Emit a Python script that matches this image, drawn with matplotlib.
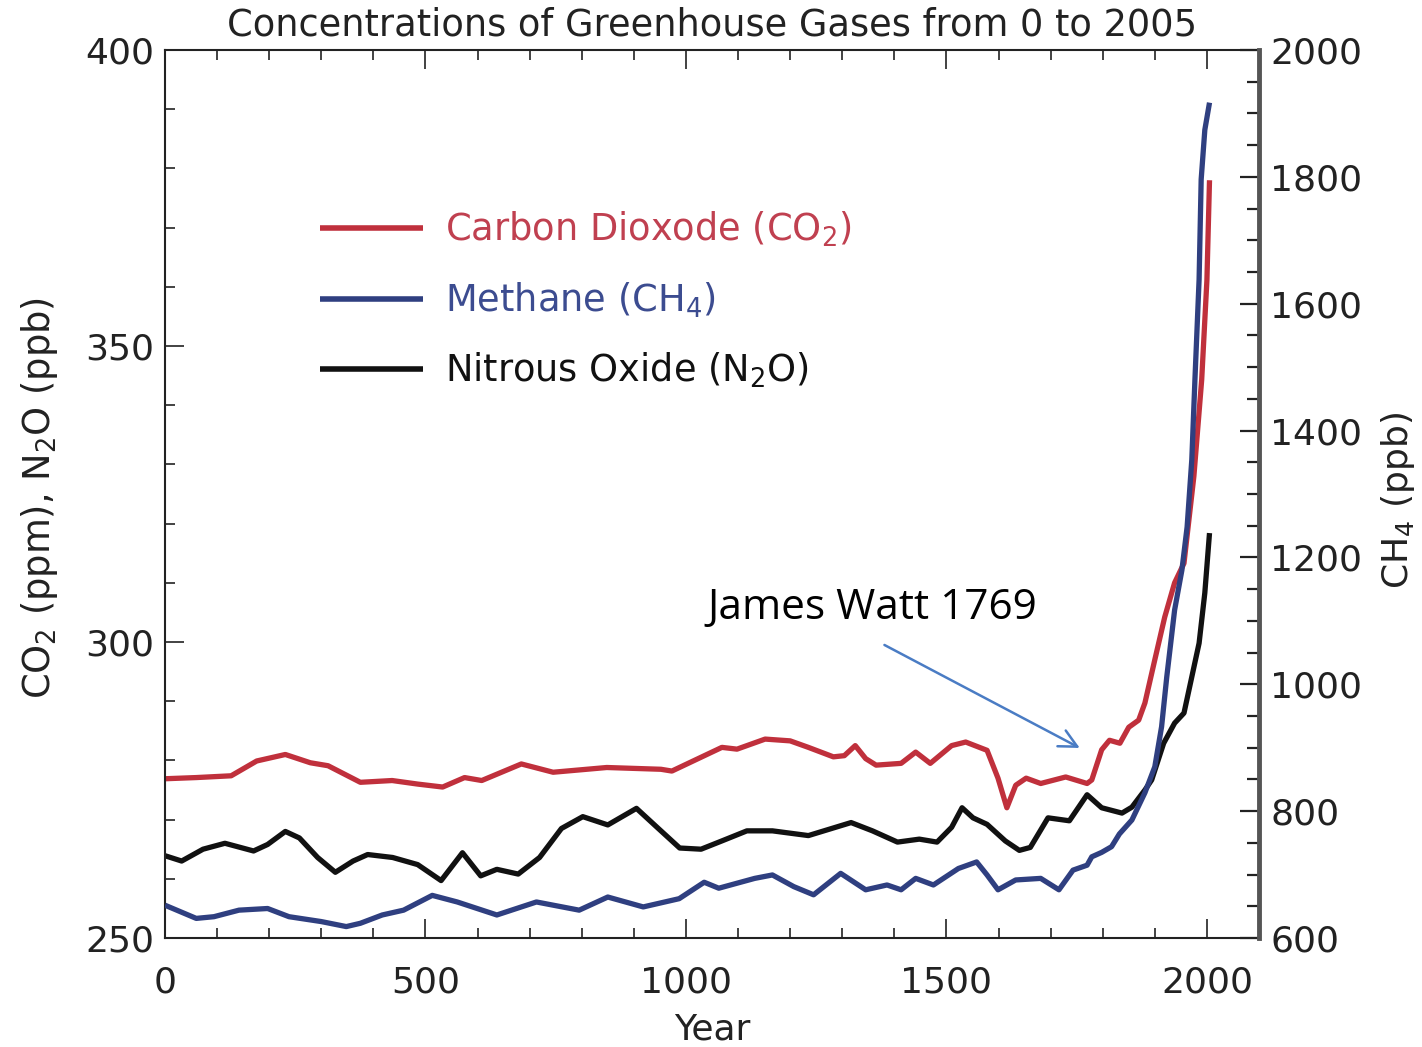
import matplotlib
matplotlib.use("Agg")
import matplotlib.pyplot as plt
from matplotlib.ticker import MultipleLocator

plt.rcParams['font.family'] = ['DejaVu Sans']
plt.rcParams['mathtext.fontset'] = 'dejavusans'

# ---------------- data ----------------
co2_years = [0, 60, 127, 176, 231, 279, 313, 375, 436, 485, 533, 575, 608, 684, 745,
             848, 952, 973, 1021, 1069, 1098, 1152, 1200, 1235, 1283, 1304, 1325, 1345,
             1365, 1413, 1441, 1469, 1510, 1537, 1578, 1599, 1616, 1633, 1653, 1681,
             1729, 1770, 1779, 1798, 1813, 1833, 1850, 1869, 1881, 1900, 1919, 1938,
             1956, 1975, 1990, 2000, 2005]
co2_ppm = [276.9, 277.1, 277.4, 279.9, 281.0, 279.6, 279.1, 276.3, 276.6, 276.0, 275.5,
           277.1, 276.6, 279.4, 278.0, 278.8, 278.5, 278.2, 280.2, 282.2, 281.9, 283.6,
           283.3, 282.2, 280.6, 280.8, 282.5, 280.3, 279.2, 279.5, 281.4, 279.5, 282.5,
           283.1, 281.7, 277.0, 272.0, 275.8, 277.0, 276.1, 277.2, 276.1, 276.7, 281.8,
           283.4, 282.9, 285.6, 286.8, 289.7, 297.0, 304.2, 310.0, 313.3, 328.0, 344.3,
           361.1, 378.0]

ch4_years = [0, 60, 94, 142, 197, 238, 300, 348, 375, 417, 458, 513, 561, 637, 713, 795,
             850, 918, 987, 1035, 1063, 1132, 1166, 1207, 1245, 1297, 1345, 1386, 1413,
             1441, 1475, 1523, 1558, 1578, 1599, 1633, 1681, 1716, 1743, 1770, 1779,
             1798, 1817, 1832, 1856, 1881, 1900, 1913, 1923, 1938, 1952, 1962, 1971,
             1977, 1985, 1989, 1996, 2005]
ch4_ppb = [651.7, 630.9, 633.6, 643.9, 646.5, 633.6, 625.9, 618.0, 623.2, 636.3, 643.9,
           667.2, 656.8, 636.3, 656.8, 643.9, 664.6, 649.0, 662.0, 687.9, 678.5, 694.0,
           699.4, 681.0, 668.1, 701.9, 676.0, 683.6, 676.0, 694.0, 683.6, 709.6, 719.9,
           699.4, 676.0, 691.5, 694.0, 676.0, 707.0, 714.8, 728.0, 735.0, 744.0, 764.0,
           786.0, 829.0, 870.0, 933.0, 1012.0, 1117.0, 1180.0, 1248.0, 1354.0, 1480.0,
           1638.0, 1796.0, 1874.0, 1917.0]

n2o_years = [0, 32, 73, 115, 170, 197, 231, 258, 293, 327, 361, 389, 437, 485, 530, 571,
             606, 637, 678, 719, 761, 802, 850, 905, 947, 988, 1029, 1069, 1117, 1166,
             1235, 1317, 1358, 1406, 1448, 1482, 1510, 1530, 1551, 1578, 1613, 1640,
             1661, 1695, 1736, 1770, 1798, 1837, 1856, 1881, 1894, 1917, 1938, 1956,
             1971, 1985, 1996, 2005]
n2o_ppb = [263.9, 263.0, 265.0, 266.0, 264.7, 265.8, 268.0, 266.9, 263.6, 261.1, 263.0,
           264.1, 263.6, 262.4, 259.7, 264.4, 260.5, 261.6, 260.8, 263.6, 268.5, 270.5,
           269.1, 271.9, 268.5, 265.2, 265.0, 266.4, 268.1, 268.1, 267.3, 269.5, 268.1,
           266.2, 266.7, 266.2, 268.7, 272.0, 270.3, 269.2, 266.4, 264.8, 265.3, 270.3,
           269.8, 274.2, 272.0, 271.1, 272.1, 275.0, 276.7, 282.9, 286.3, 288.0, 294.1,
           299.8, 308.3, 318.4]

title = "Concentrations of Greenhouse Gases from 0 to 2005"
labels = ["Carbon Dioxode (CO$_2$)", "Methane (CH$_4$)", "Nitrous Oxide (N$_2$O)"]
x_ticks = [0, 500, 1000, 1500, 2000]
left_ticks = [250, 300, 350, 400]
right_ticks = [600, 800, 1000, 1200, 1400, 1600, 1800, 2000]
annot_text = "James Watt 1769"
annot_text_pos = (1358, 305.7)
annot_arrow_from = (1381, 299.5)
annot_arrow_to = (1756, 282.1)

# ---------------- styling ----------------
RED = "#c0303c"
BLUE = "#2f3f80"
BLACK = "#111111"
FS = 26

W, H = 1422, 1047
fig = plt.figure(figsize=(W / 100, H / 100), dpi=100)
L, R, T, B = 165, 1259, 50, 938
ax = fig.add_axes([L / W, 1 - B / H, (R - L) / W, (B - T) / H])
ax2 = ax.twinx()

l1, = ax.plot(co2_years, co2_ppm, color=RED, lw=3.8, solid_capstyle='butt',
              solid_joinstyle='round')
l3, = ax.plot(n2o_years, n2o_ppb, color=BLACK, lw=3.8, solid_capstyle='butt',
              solid_joinstyle='round')
l2, = ax2.plot(ch4_years, ch4_ppb, color=BLUE, lw=3.8, solid_capstyle='butt',
               solid_joinstyle='round')

ax.set_xlim(0, 2100)
ax.set_ylim(250, 400)
ax2.set_ylim(600, 2000)

ax.set_xticks(x_ticks)
ax.xaxis.set_minor_locator(MultipleLocator(100))
ax.set_yticks(left_ticks)
ax.yaxis.set_minor_locator(MultipleLocator(10))
ax2.set_yticks(right_ticks)
ax2.yaxis.set_minor_locator(MultipleLocator(50))

tc = "#222222"
ax.tick_params(axis='x', which='both', direction='in', top=True, bottom=True,
               labelsize=FS, pad=20, colors=tc, width=1.2)
ax.tick_params(axis='x', which='major', length=14)
ax.tick_params(axis='x', which='minor', length=7)
ax.tick_params(axis='y', which='both', direction='in', left=True, right=False,
               labelsize=FS, pad=8, colors=tc, width=1.2)
ax.tick_params(axis='y', which='major', length=14)
ax.tick_params(axis='y', which='minor', length=7)
ax2.tick_params(axis='y', which='both', direction='in', left=False, right=True,
                labelsize=FS, pad=8, colors=tc, width=1.6)
ax2.tick_params(axis='y', which='major', length=14)
ax2.tick_params(axis='y', which='minor', length=9)

for sp in ['left', 'top', 'bottom']:
    ax.spines[sp].set_linewidth(1.5)
    ax.spines[sp].set_color('#222222')
ax2.spines['right'].set_linewidth(3.5)
ax2.spines['right'].set_color('#555555')
for sp in ['left', 'top', 'bottom']:
    ax2.spines[sp].set_visible(False)

fig.text((L + R) / 2 / W, 1 - 25 / H, title, ha='center', va='center',
         fontsize=26.5, color=tc)
fig.text((L + R) / 2 / W, 1 - 1029 / H, "Year", ha='center', va='center',
         fontsize=FS, color=tc)
fig.text(40 / W, 1 - 498 / H, "CO$_2$ (ppm), N$_2$O (ppb)", rotation=90,
         ha='center', va='center', fontsize=26.5, color=tc)
fig.text(1398 / W, 1 - 500 / H, "CH$_4$ (ppb)", rotation=90,
         ha='center', va='center', fontsize=26, color=tc)

leg = ax.legend([l1, l2, l3], labels, loc='upper left',
                bbox_to_anchor=((320 - L) / (R - L), 1 - (210 - T) / (B - T)),
                frameon=False, fontsize=26.5, handlelength=2.8,
                handletextpad=0.6, labelspacing=0.85, borderaxespad=0,
                borderpad=0)
for txt, c in zip(leg.get_texts(), ["#c04050", "#3c4c90", BLACK]):
    txt.set_color(c)
for h in leg.legend_handles:
    h.set_linewidth(4)

ax.text(annot_text_pos[0], annot_text_pos[1], annot_text, ha='center', va='center',
        fontsize=30.5, family=['Open Sans', 'DejaVu Sans'], color='black')
ax.annotate('', xy=annot_arrow_to, xytext=annot_arrow_from,
            arrowprops=dict(arrowstyle='->', color='#4a7cc4', lw=1.8,
                            mutation_scale=32, shrinkA=0, shrinkB=0))

fig.savefig("out.png", dpi=100)
